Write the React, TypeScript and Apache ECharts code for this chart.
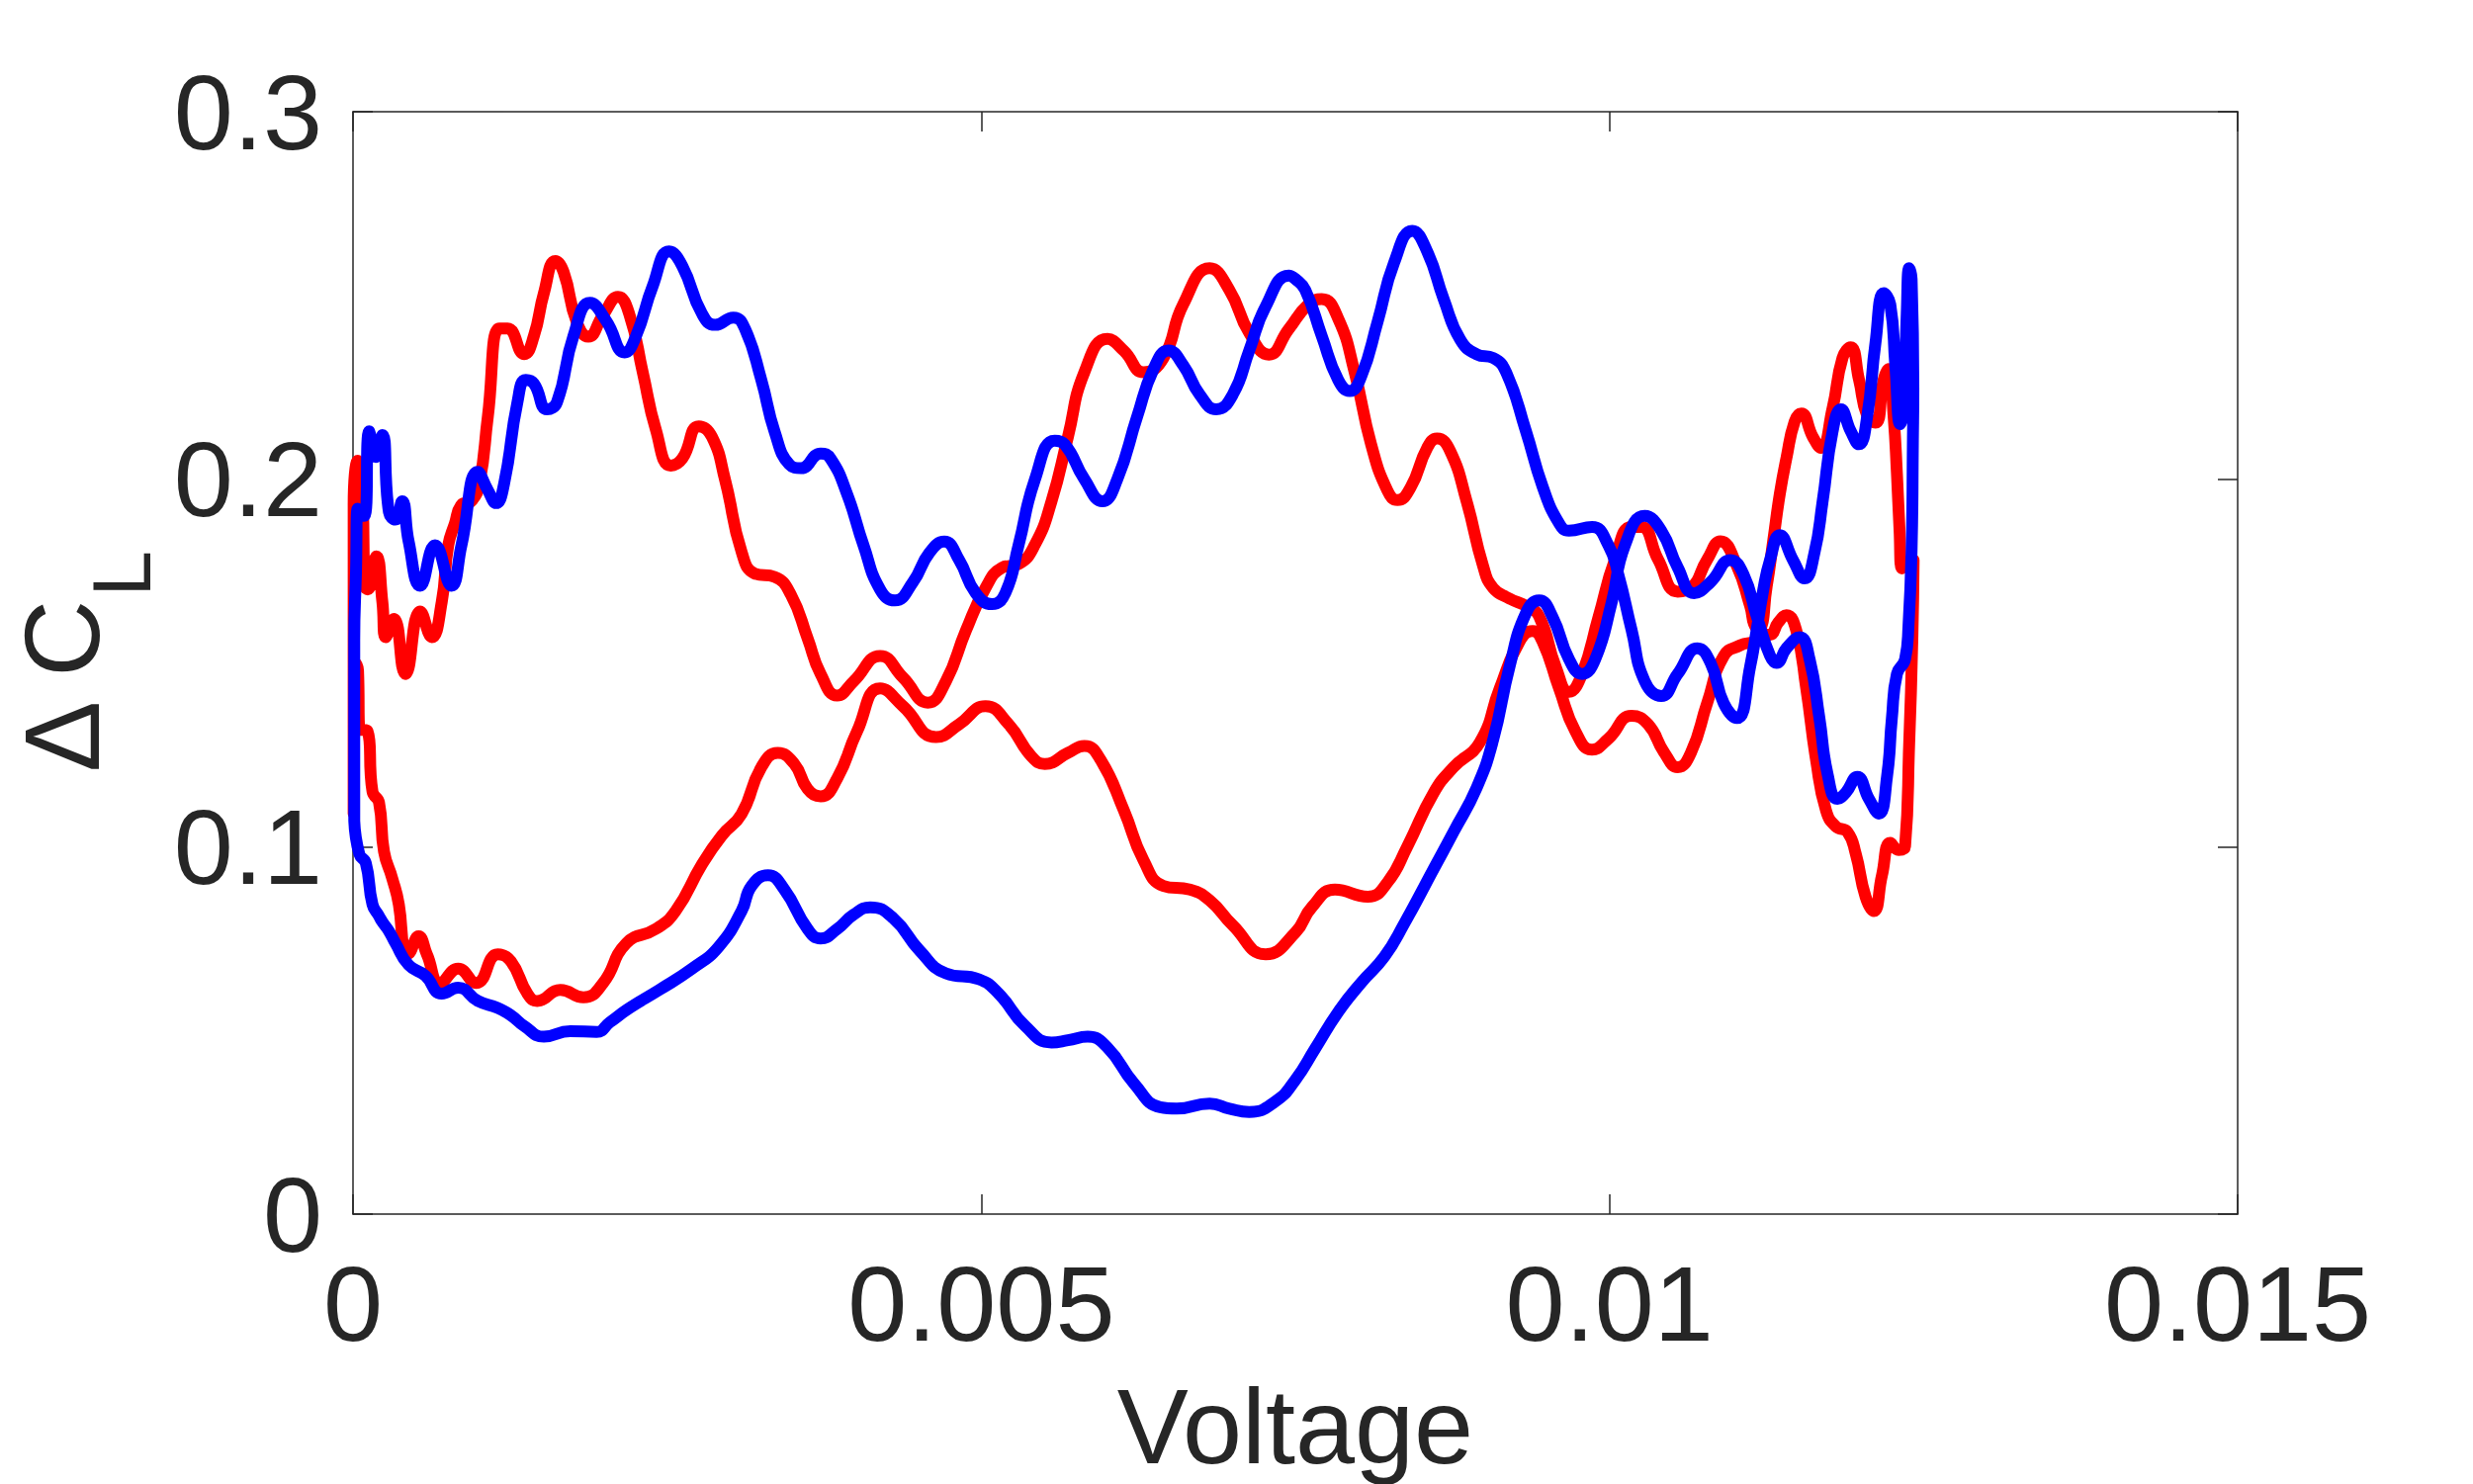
import React, { useEffect, useRef } from "react";
import * as echarts from "echarts";

// Axis ticks
const xTicks = [0, 0.005, 0.01, 0.015];
const yTicks = [0, 0.1, 0.2, 0.3];

// Red loop: forward sweep (voltage increasing)
const redForward: [number, number][] = [
  [0.000005, 0.109], [0.000005, 0.193], [0.000037, 0.205], [0.000076, 0.194], [0.000092, 0.171],
  [0.000118, 0.170], [0.000186, 0.179], [0.000234, 0.1665], [0.00026, 0.157], [0.000325, 0.162],
  [0.000417, 0.147], [0.000535, 0.164], [0.000627, 0.157], [0.000706, 0.1665], [0.000758, 0.182],
  [0.000811, 0.188], [0.000863, 0.193], [0.000942, 0.194], [0.001007, 0.199], [0.001073, 0.217],
  [0.001165, 0.241], [0.00123, 0.241], [0.001362, 0.234], [0.00144, 0.239], [0.001519, 0.2506],
  [0.001611, 0.2594], [0.001676, 0.2564], [0.001781, 0.2427], [0.001873, 0.2388], [0.001991, 0.2447],
  [0.002109, 0.2496], [0.002201, 0.2447], [0.002306, 0.2291], [0.002411, 0.2134], [0.002529, 0.2037],
  [0.002621, 0.2056], [0.002752, 0.2144], [0.002857, 0.2115], [0.002962, 0.1997], [0.003093, 0.1802],
  [0.003198, 0.1743], [0.003355, 0.1734], [0.003486, 0.1685], [0.003618, 0.1567], [0.003722, 0.147],
  [0.003854, 0.1411], [0.003985, 0.145], [0.004195, 0.1519], [0.004378, 0.146], [0.004575, 0.1392],
  [0.004719, 0.145], [0.004877, 0.1587], [0.005034, 0.1704], [0.005165, 0.1759], [0.005297, 0.1769],
  [0.005428, 0.1822], [0.005559, 0.1939], [0.00569, 0.2115], [0.005821, 0.2291], [0.006005, 0.2382],
  [0.006136, 0.2349], [0.006293, 0.2291], [0.006451, 0.233], [0.006608, 0.2476], [0.006818, 0.2574],
  [0.006975, 0.2515], [0.007133, 0.2398], [0.00729, 0.2339], [0.007447, 0.2408], [0.007605, 0.2476],
  [0.00771, 0.249], [0.007841, 0.2437], [0.007972, 0.2291], [0.008103, 0.2095], [0.008234, 0.1968],
  [0.008313, 0.1943], [0.008418, 0.1978], [0.008549, 0.2085], [0.008628, 0.2111], [0.008733, 0.2076],
  [0.008864, 0.1939], [0.008995, 0.1763], [0.009074, 0.1704], [0.009205, 0.1675], [0.009336, 0.1655],
  [0.009441, 0.1626], [0.009573, 0.1489], [0.009678, 0.1421], [0.009782, 0.147], [0.009914, 0.1626],
  [0.010045, 0.1782], [0.010176, 0.187], [0.010255, 0.187], [0.010386, 0.1782], [0.010543, 0.1694],
  [0.010648, 0.1704], [0.010779, 0.1782], [0.010884, 0.1831], [0.011015, 0.1763], [0.01112, 0.1655],
  [0.011173, 0.1592], [0.011278, 0.1577], [0.011343, 0.161], [0.011409, 0.163], [0.011488, 0.1587],
  [0.011566, 0.1431], [0.011645, 0.1235], [0.011724, 0.1098], [0.011802, 0.1055], [0.011894, 0.104],
  [0.01196, 0.0981], [0.012038, 0.0864], [0.012104, 0.0825], [0.012169, 0.0922], [0.012235, 0.101],
  [0.012301, 0.0991], [0.012353, 0.1001], [0.012385, 0.1274], [0.012411, 0.1567], [0.012421, 0.178],
];

// Red loop: return sweep, listed from low to high voltage
const redReturn: [number, number][] = [
  [0.000005, 0.109], [0.00002, 0.15], [0.00004, 0.148], [0.00005, 0.132], [0.000115, 0.1315],
  [0.000155, 0.115], [0.000207, 0.112], [0.000247, 0.0986], [0.000312, 0.0914], [0.000365, 0.0842],
  [0.000404, 0.0719], [0.00043, 0.0707], [0.000522, 0.0756], [0.000588, 0.0707], [0.000693, 0.0629],
  [0.000837, 0.0668], [0.000981, 0.0629], [0.001152, 0.0707], [0.001257, 0.0688], [0.001388, 0.06],
  [0.001466, 0.058], [0.00165, 0.061], [0.001834, 0.059], [0.001991, 0.0629], [0.002175, 0.0737],
  [0.002411, 0.0776], [0.002568, 0.0825], [0.002778, 0.0952], [0.002935, 0.103], [0.003093, 0.1089],
  [0.00325, 0.1216], [0.003381, 0.1255], [0.003513, 0.1225], [0.003618, 0.1157], [0.003722, 0.1137],
  [0.003854, 0.1186], [0.004011, 0.1313], [0.004195, 0.1431], [0.004378, 0.1382], [0.004641, 0.1298],
  [0.004824, 0.1333], [0.005034, 0.1382], [0.005218, 0.1333], [0.005401, 0.1245], [0.005506, 0.1225],
  [0.00569, 0.1255], [0.005821, 0.1274], [0.005952, 0.1235], [0.006136, 0.1098], [0.006293, 0.0962],
  [0.006451, 0.0893], [0.006661, 0.0883], [0.006818, 0.0854], [0.007002, 0.0786], [0.007264, 0.0707],
  [0.0075, 0.0766], [0.007631, 0.0835], [0.007815, 0.0883], [0.008077, 0.0864], [0.008234, 0.0903],
  [0.008392, 0.1001], [0.008602, 0.1147], [0.008759, 0.1216], [0.008969, 0.1284], [0.009127, 0.1431],
  [0.009284, 0.1558], [0.009389, 0.1587], [0.009468, 0.1558], [0.009599, 0.1431], [0.00973, 0.1313],
  [0.009861, 0.1264], [0.009992, 0.1294], [0.010176, 0.1356], [0.010307, 0.1333], [0.010438, 0.1255],
  [0.010543, 0.1216], [0.010648, 0.1255], [0.010779, 0.1392], [0.01091, 0.1519], [0.011042, 0.1548],
  [0.011173, 0.1567], [0.011252, 0.1709], [0.011304, 0.1834], [0.011356, 0.196], [0.011409, 0.2058],
  [0.011474, 0.2157], [0.011527, 0.2179], [0.011619, 0.2115], [0.011684, 0.2085], [0.011776, 0.2193],
  [0.011855, 0.233], [0.01192, 0.2359], [0.011986, 0.2271], [0.012051, 0.2173], [0.012117, 0.2154],
  [0.012183, 0.2271], [0.012222, 0.23], [0.012262, 0.2169], [0.012288, 0.2015], [0.012309, 0.186],
  [0.012327, 0.1757],
];

// Blue loop: forward sweep (voltage increasing)
const blueForward: [number, number][] = [
  [0.00001, 0.107], [0.00001, 0.136], [0.00001, 0.156], [0.000024, 0.175], [0.000037, 0.192],
  [0.000089, 0.190], [0.000129, 0.213], [0.000181, 0.206], [0.000234, 0.212], [0.000286, 0.191],
  [0.000338, 0.189], [0.000391, 0.194], [0.000443, 0.183], [0.000535, 0.171], [0.000653, 0.182],
  [0.000784, 0.171], [0.000863, 0.182], [0.000994, 0.202], [0.001073, 0.197], [0.001139, 0.1935],
  [0.001204, 0.199], [0.001309, 0.221], [0.001375, 0.227], [0.00144, 0.226], [0.001545, 0.219],
  [0.001624, 0.221], [0.001755, 0.239], [0.001886, 0.248], [0.002017, 0.243], [0.002162, 0.2345],
  [0.002253, 0.239], [0.002385, 0.2525], [0.002516, 0.262], [0.002621, 0.258], [0.002778, 0.245],
  [0.002883, 0.242], [0.003027, 0.244], [0.003119, 0.241], [0.00325, 0.227], [0.003355, 0.213],
  [0.003473, 0.204], [0.003565, 0.203], [0.003722, 0.207], [0.003801, 0.2056], [0.003932, 0.196],
  [0.004063, 0.182], [0.004195, 0.170], [0.004313, 0.167], [0.004457, 0.172], [0.004588, 0.180],
  [0.004706, 0.183], [0.004824, 0.178], [0.004956, 0.169], [0.005086, 0.166], [0.005192, 0.169],
  [0.005297, 0.182], [0.005428, 0.200], [0.005585, 0.2105], [0.005664, 0.2095], [0.005821, 0.200],
  [0.005965, 0.194], [0.006083, 0.200], [0.006241, 0.217], [0.006372, 0.230], [0.00649, 0.235],
  [0.006608, 0.231], [0.006739, 0.223], [0.006871, 0.219], [0.007002, 0.223], [0.007133, 0.235],
  [0.007264, 0.247], [0.007447, 0.2554], [0.0075, 0.2545], [0.007579, 0.2515], [0.00771, 0.239],
  [0.007841, 0.227], [0.007933, 0.224], [0.008025, 0.228], [0.008156, 0.243], [0.008287, 0.259],
  [0.008431, 0.2676], [0.008549, 0.262], [0.008681, 0.249], [0.008812, 0.238], [0.008943, 0.234],
  [0.009074, 0.233], [0.009179, 0.229], [0.009336, 0.213], [0.009468, 0.198], [0.009599, 0.188],
  [0.009678, 0.186], [0.009861, 0.187], [0.009992, 0.182], [0.010071, 0.174], [0.010176, 0.159],
  [0.010281, 0.145], [0.010412, 0.141], [0.010543, 0.147], [0.010701, 0.154], [0.010805, 0.150],
  [0.01091, 0.139], [0.011015, 0.135], [0.01112, 0.149], [0.011225, 0.170], [0.011278, 0.178],
  [0.011356, 0.1848], [0.011461, 0.178], [0.011553, 0.173], [0.011632, 0.180], [0.011697, 0.194],
  [0.011776, 0.213], [0.011842, 0.219], [0.011921, 0.213], [0.011986, 0.2095], [0.012051, 0.217],
  [0.012117, 0.237], [0.012183, 0.2506], [0.012235, 0.2476], [0.012275, 0.231], [0.012314, 0.215],
  [0.01234, 0.219], [0.012366, 0.245], [0.012385, 0.2574], [0.012405, 0.2545], [0.012419, 0.225],
  [0.012415, 0.21],
];

// Blue loop: return sweep, listed from high to low voltage
const blueReturn: [number, number][] = [
  [0.012405, 0.181], [0.01238, 0.160], [0.012353, 0.151], [0.012288, 0.147], [0.012248, 0.135],
  [0.012209, 0.119], [0.012144, 0.109], [0.012065, 0.113], [0.011973, 0.119], [0.011881, 0.1147],
  [0.011815, 0.113], [0.011737, 0.1196], [0.011671, 0.135], [0.011593, 0.151], [0.011514, 0.157],
  [0.011409, 0.154], [0.01133, 0.150], [0.011278, 0.152], [0.011173, 0.1626], [0.011068, 0.174],
  [0.010963, 0.178], [0.010805, 0.172], [0.010674, 0.169], [0.010543, 0.176], [0.010412, 0.186],
  [0.010281, 0.190], [0.010123, 0.182], [0.010018, 0.1665], [0.009887, 0.151], [0.009782, 0.147],
  [0.009678, 0.151], [0.009546, 0.1626], [0.009441, 0.167], [0.009336, 0.1636], [0.009205, 0.149],
  [0.009074, 0.129], [0.008943, 0.116], [0.008759, 0.104], [0.008602, 0.094], [0.008366, 0.079],
  [0.008208, 0.070], [0.008025, 0.063], [0.007841, 0.055], [0.007657, 0.045], [0.0075, 0.0365],
  [0.007343, 0.0307], [0.007133, 0.0278], [0.006975, 0.0287], [0.006818, 0.0301], [0.006556, 0.0287],
  [0.006424, 0.0291], [0.006215, 0.0356], [0.006005, 0.0453], [0.005847, 0.0483], [0.00569, 0.0473],
  [0.005559, 0.0467], [0.005349, 0.0512], [0.005139, 0.060], [0.004982, 0.0639], [0.004719, 0.0655],
  [0.00451, 0.0717], [0.0043, 0.0805], [0.004116, 0.0835], [0.003985, 0.0815], [0.003854, 0.0776],
  [0.003722, 0.075], [0.003618, 0.0776], [0.003434, 0.0883], [0.003303, 0.0922], [0.003172, 0.0893],
  [0.003093, 0.0825], [0.002909, 0.0727], [0.0027, 0.0668], [0.002437, 0.061], [0.002201, 0.0561],
  [0.002044, 0.0522], [0.001939, 0.0496], [0.001729, 0.0498], [0.001519, 0.0483], [0.001362, 0.0512],
  [0.001257, 0.0541], [0.001152, 0.0561], [0.000994, 0.058], [0.000837, 0.0616], [0.000706, 0.060],
  [0.000575, 0.0649], [0.000443, 0.0678], [0.000338, 0.0737], [0.000286, 0.077], [0.000234, 0.0795],
  [0.000207, 0.0811], [0.000155, 0.0843], [0.000102, 0.0955], [0.00005, 0.098], [0.00001, 0.107],
];

const AXIS_COLOR = "#262626";
const FONT = '"Liberation Sans", Arial, Helvetica, sans-serif';

export default function App() {
  const ref = useRef<HTMLDivElement>(null);

  useEffect(() => {
    if (!ref.current) return;
    const chart = echarts.init(ref.current, undefined, { renderer: "svg" });

    const redLoop = [...redForward, ...redReturn.slice().reverse()];
    const blueLoop = [...blueForward, ...blueReturn];

    const xMin = xTicks[0];
    const xMax = xTicks[xTicks.length - 1];
    const xStep = xTicks[1] - xTicks[0];
    const yMin = yTicks[0];
    const yMax = yTicks[yTicks.length - 1];
    const yStep = 0.1;

    const lineStyle = { color: AXIS_COLOR, width: 1.5 };
    const tick = { show: true, inside: true, length: 20, lineStyle };
    const labelStyle = { fontSize: 108, color: AXIS_COLOR, fontFamily: FONT };

    chart.setOption({
      animation: false,
      backgroundColor: "#ffffff",
      grid: { left: 357, top: 113, width: 1906, height: 1116, containLabel: false },
      xAxis: [
        {
          type: "value",
          position: "bottom",
          min: xMin,
          max: xMax,
          interval: xStep,
          axisLine: { show: true, onZero: false, lineStyle },
          axisTick: tick,
          splitLine: { show: false },
          axisLabel: { ...labelStyle, margin: 36, formatter: (v: number) => String(+v.toFixed(4)) },
          name: "Voltage",
          nameLocation: "middle",
          nameGap: 160,
          nameTextStyle: { ...labelStyle },
        },
        {
          type: "value",
          position: "top",
          min: xMin,
          max: xMax,
          interval: xStep,
          axisLine: { show: true, onZero: false, lineStyle },
          axisTick: tick,
          splitLine: { show: false },
          axisLabel: { show: false },
        },
      ],
      yAxis: [
        {
          type: "value",
          position: "left",
          min: yMin,
          max: yMax,
          interval: yStep,
          axisLine: { show: true, onZero: false, lineStyle },
          axisTick: tick,
          splitLine: { show: false },
          axisLabel: { ...labelStyle, margin: 31, formatter: (v: number) => String(+v.toFixed(2)) },
          name: "{a|Δ C}{b|L}",
          nameLocation: "middle",
          nameGap: 192,
          nameTextStyle: {
            ...labelStyle,
            rich: {
              a: { fontSize: 108, lineHeight: 108, color: AXIS_COLOR, fontFamily: FONT, verticalAlign: "top" },
              b: {
                fontSize: 84,
                lineHeight: 84,
                color: AXIS_COLOR,
                fontFamily: FONT,
                verticalAlign: "top",
                padding: [72, 0, 0, 0],
              },
            },
          },
        },
        {
          type: "value",
          position: "right",
          min: yMin,
          max: yMax,
          interval: yStep,
          axisLine: { show: true, onZero: false, lineStyle },
          axisTick: tick,
          splitLine: { show: false },
          axisLabel: { show: false },
        },
      ],
      series: [
        {
          name: "red",
          type: "line",
          xAxisIndex: 0,
          yAxisIndex: 0,
          data: redLoop,
          showSymbol: false,
          symbol: "none",
          smooth: 0.5,
          clip: false,
          lineStyle: { color: "#ff0000", width: 12, join: "round", cap: "round" },
        },
        {
          name: "blue",
          type: "line",
          xAxisIndex: 0,
          yAxisIndex: 0,
          data: blueLoop,
          showSymbol: false,
          symbol: "none",
          smooth: 0.5,
          clip: false,
          lineStyle: { color: "#0000ff", width: 12, join: "round", cap: "round" },
        },
      ],
    });

    return () => chart.dispose();
  }, []);

  return (
    <div
      ref={ref}
      style={{ position: "fixed", left: 0, top: 0, width: 2501, height: 1501, background: "#ffffff" }}
    />
  );
}
